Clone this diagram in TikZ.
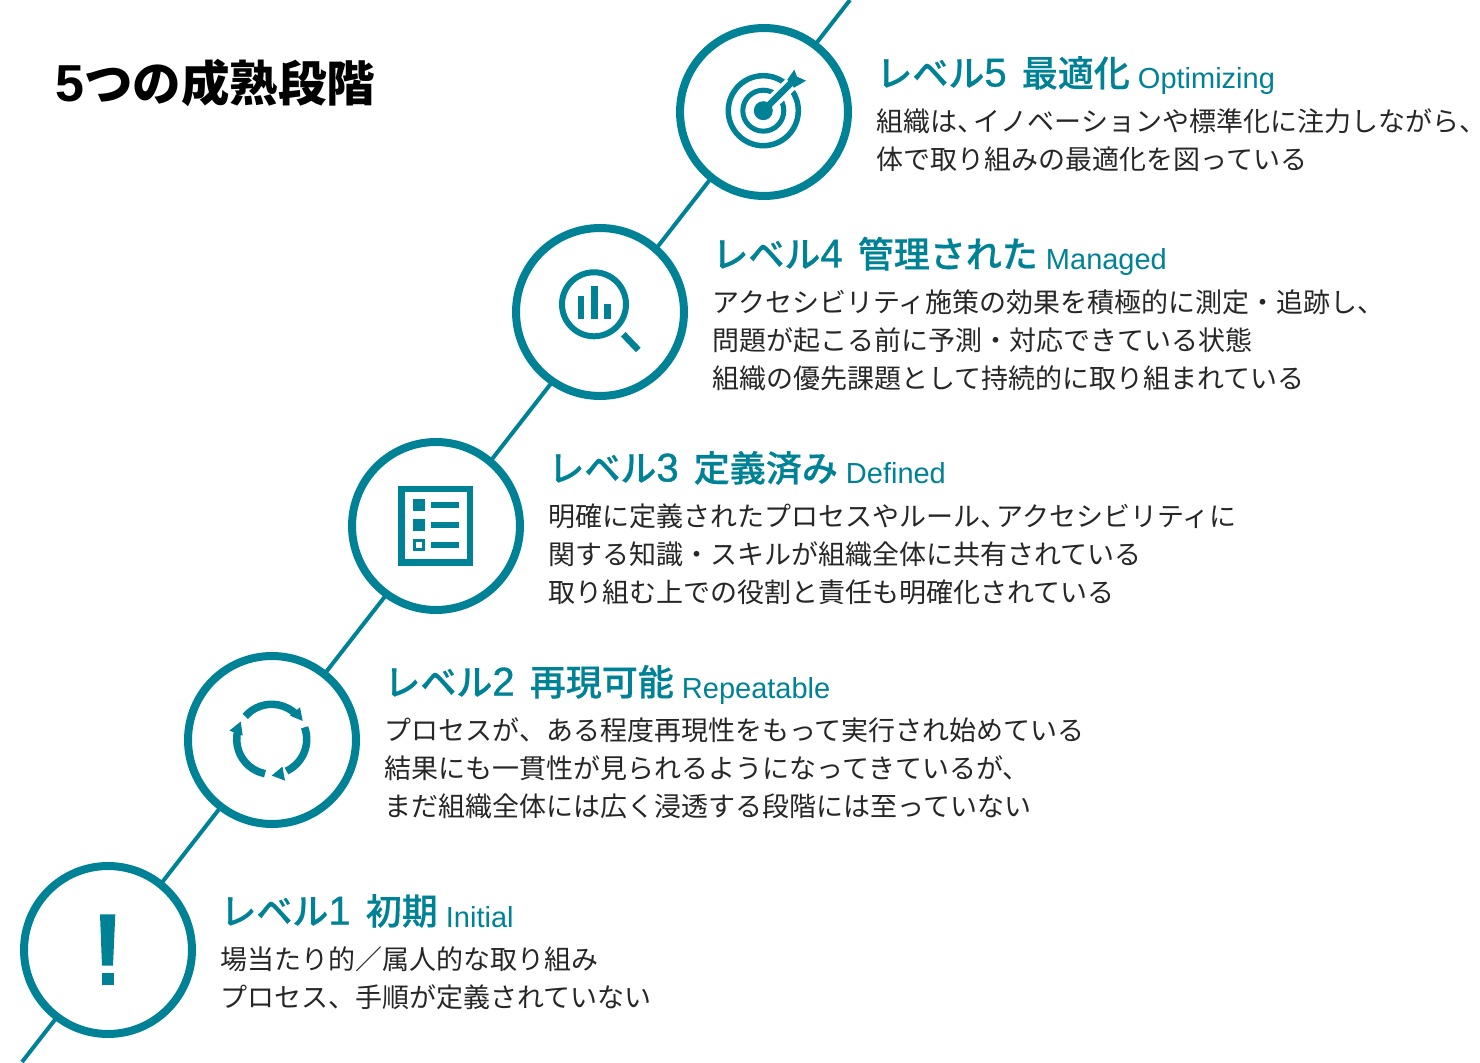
\documentclass[tikz,border=0pt]{standalone}
\usepackage{fontspec}
\setmainfont{Noto Sans CJK JP}
\newfontfamily\mediumfont[FakeBold=0.4]{Noto Sans CJK JP Medium}
\newfontfamily\digitfont[FakeBold=1]{Liberation Sans}
\newfontfamily\engfont{Liberation Sans}
\definecolor{levelteal}{RGB}{0,130,150}
\newcommand{\engname}[1]{\raisebox{-0.05cm}{\engfont\fontsize{16.5}{20}\selectfont #1}}
\newcommand{\headnum}[1]{{\digitfont\fontsize{22.8}{24}\selectfont #1}\hspace{0.14cm}}
\newcommand{\tightcomma}{、\kern-0.22cm}
\tikzset{
    levelcircle/.style={circle, draw=levelteal, fill=white, line width=0.16cm, minimum size=3.36cm, inner sep=0pt, outer sep=0pt},
    stemline/.style={levelteal, line width=0.08cm},
    titletext/.style={anchor=base west, inner sep=0pt, font=\bfseries\fontsize{27.6}{32}\selectfont},
    headtext/.style={anchor=base west, inner sep=0pt, text=levelteal, font=\mediumfont\fontsize{20.5}{24}\selectfont},
    bodytext/.style={anchor=north west, inner sep=0pt, align=left, text=black!85, font=\fontsize{15.36}{21.62}\selectfont},
    iconline/.style={draw=levelteal, fill=none}
}
\begin{document}
\begin{tikzpicture}[x=0.02cm,y=0.02cm]
    \useasboundingbox (0,0) rectangle (1480,1062);

    \node[titletext] (title) at (55,960) {{\fontspec{Liberation Sans}\fontsize{29.6}{32}\selectfont\bfseries 5}つの成熟段階};

    \coordinate (stemtop) at (850,1062);
    \coordinate (stembottom) at (22,0);
    \draw[stemline] (stemtop) -- (stembottom); % Runs behind all circles

    \node[levelcircle] (level5) at (764,950) {};
    \node[levelcircle] (level4) at (600,750) {};
    \node[levelcircle] (level3) at (436,536) {};
    \node[levelcircle] (level2) at (272,322) {};
    \node[levelcircle] (level1) at (108,112) {};

    % Level 5: target
    \begin{scope}[shift={(763.3,951.3)}]
        \draw[iconline, line width=0.11cm] (0,0) circle (35);
        \draw[iconline, line width=0.10cm] (0,0) circle (20.5);
        \draw[white, line width=0.28cm] (0,0) -- (37,36);
        \draw[levelteal, line width=0.13cm] (0,0) -- (30,30);
        \fill[levelteal] (24,31) -- (31,41) -- (33.7,34) -- (42.7,30) -- (30.7,23) -- cycle;
        \fill[levelteal] (0,0) circle (9.5);
    \end{scope}

    % Level 4: magnifier with bars
    \draw[iconline, line width=0.12cm] (594,757.7) circle (32);
    \fill[levelteal] (577.7,743.3) rectangle (584,766);
    \fill[levelteal] (591,743.3) rectangle (597.7,776);
    \fill[levelteal] (604.3,743.3) rectangle (610.7,757.7);
    \draw[levelteal, line width=0.13cm] (623.3,727.7) -- (638.3,712);

    % Level 3: checklist
    \draw[levelteal, line width=0.13cm] (401.6,499.3) rectangle (470,573);
    \foreach \rowy in {556.7,536.7,516.7} {
        \draw[levelteal, line width=0.12cm] (431,\rowy) -- (458.7,\rowy);
    }
    \fill[levelteal] (413.3,550.7) rectangle (425.3,562.7);
    \fill[levelteal] (413.3,530.7) rectangle (425.3,542.7);
    \draw[levelteal, line width=0.06cm] (414.8,512.2) rectangle (423.8,521.2);

    % Level 2: cycle of three arrows
    \begin{scope}[shift={(271.7,322.7)}]
        \draw[iconline, line width=0.15cm] (139:35) arc[start angle=139, end angle=45, radius=35];
        \draw[iconline, line width=0.15cm] (20:35) arc[start angle=20, end angle=-65, radius=35];
        \draw[iconline, line width=0.15cm] (259:35) arc[start angle=259, end angle=165, radius=35];
        \fill[levelteal] (18.3,23.7) -- (28.3,32) -- (31,18.3) -- cycle;
        \fill[levelteal] (0,-36.3) -- (10.7,-27.3) -- (13.3,-41.3) -- cycle;
        \fill[levelteal] (-42.3,8.7) -- (-31,17.7) -- (-29,3.7) -- cycle;
    \end{scope}

    % Level 1: exclamation mark
    \fill[levelteal] (100,147.7) -- (115.3,147.7) -- (113,96.3) -- (102,96.3) -- cycle;
    \fill[levelteal] (101.7,77.3) rectangle (114,89.3);

    \node[headtext] (head5) at (876,975.5) {レベル\headnum{5} 最適化 \engname{Optimizing}};
    \node[bodytext] (body5) at (876.5,954) {組織は\tightcomma イノベーションや標準化に注力しながら\tightcomma\\体で取り組みの最適化を図っている};

    \node[headtext] (head4) at (712,794.5) {レベル\headnum{4} 管理された \engname{Managed}};
    \node[bodytext] (body4) at (712.5,773) {アクセシビリティ施策の効果を積極的に測定・追跡し、\\問題が起こる前に予測・対応できている状態\\組織の優先課題として持続的に取り組まれている};

    \node[headtext] (head3) at (548,580.5) {レベル\headnum{3} 定義済み \engname{Defined}};
    \node[bodytext] (body3) at (548.5,559) {明確に定義されたプロセスやルール\tightcomma アクセシビリティに\\関する知識・スキルが組織全体に共有されている\\取り組む上での役割と責任も明確化されている};

    \node[headtext] (head2) at (384,366.5) {レベル\headnum{2} 再現可能 \engname{Repeatable}};
    \node[bodytext] (body2) at (384.5,345) {プロセスが、ある程度再現性をもって実行され始めている\\結果にも一貫性が見られるようになってきているが、\\まだ組織全体には広く浸透する段階には至っていない};

    \node[headtext] (head1) at (220,137.5) {レベル\headnum{1} 初期 \engname{Initial}};
    \node[bodytext] (body1) at (220.5,116) {場当たり的／属人的な取り組み\\プロセス、手順が定義されていない};
\end{tikzpicture}
\end{document}
